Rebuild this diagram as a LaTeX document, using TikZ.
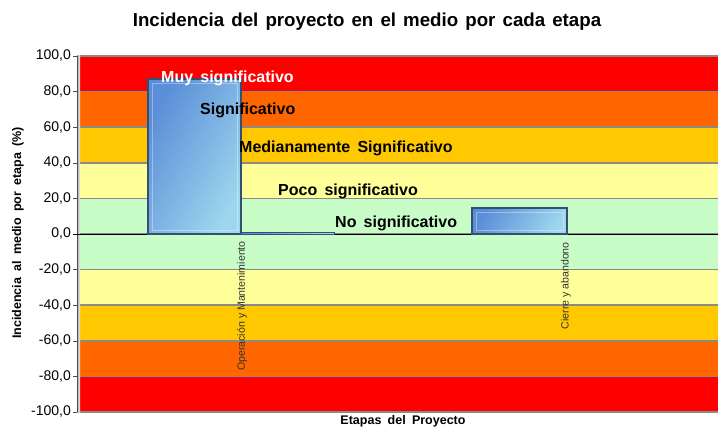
\documentclass[tikz,border=0pt]{standalone}
\usepackage{fontspec}
\setmainfont{Liberation Sans}
\definecolor{bandred}{HTML}{FF0000}
\definecolor{bandorange}{HTML}{FF6600}
\definecolor{bandgold}{HTML}{FFC800}
\definecolor{bandyellow}{HTML}{FFFF99}
\definecolor{bandgreen}{HTML}{C8FDC8}
\definecolor{bardark}{HTML}{5B8ED8}
\definecolor{barlight}{HTML}{9DD6EE}
\definecolor{baredge}{HTML}{34506E}
\definecolor{gridgray}{HTML}{8A8A8A}

\begin{document}
\begin{tikzpicture}[x=1pt, y=-1pt,
    wide/.style={execute at begin node={\spaceskip=#1\relax}},
    level/.style={font=\bfseries\fontsize{16}{18}\selectfont, wide=0.45em, anchor=west, inner sep=0pt},
    tick/.style={font=\fontsize{14}{16}\selectfont, anchor=east, inner sep=0pt},
    stage/.style={font=\fontsize{10.6}{12}\selectfont, text=black!80, rotate=90, anchor=east, inner sep=0pt},
    axtitle/.style={font=\bfseries\fontsize{12.5}{14}\selectfont, wide=0.5em, inner sep=0pt},
    bar/.style={top color=bardark, bottom color=barlight, shading angle=60, draw=baredge, line width=1.3pt}]

    \useasboundingbox (0,0) rectangle (718,428);

    \node[font=\bfseries\fontsize{18.7}{22}\selectfont, wide=0.38em] (title) at (367,22) {Incidencia del proyecto en el medio por cada etapa};

    \foreach \v/\c in {100/bandred,80/bandorange,60/bandgold,40/bandyellow,20/bandgreen,0/bandgreen,-20/bandyellow,-40/bandgold,-60/bandorange,-80/bandred} {
        \pgfmathsetmacro\ya{234-1.78*\v}
        \pgfmathsetmacro\yb{234-1.78*(\v-20)}
        \fill[\c] (79,\ya) rectangle (718,\yb);
        \draw[gridgray, line width=1.5pt] (79,\ya) -- (718,\ya);
    };
    \draw[gridgray, line width=1.5pt] (79,412) -- (718,412);
    \shade[left color=black!35, right color=black!5] (77,56) rectangle (80,412);

    \foreach \v [count=\n] in {100,80,...,-100} {
        \pgfmathsetmacro\ya{234-1.78*\v}
        \draw[black!70] (73,\ya) -- (77,\ya);
        \node[tick] (tick\n) at (71,\ya) {\v,0};
    };
    \draw[black!70] (77,56) -- (77,412);
    \draw[black] (73,234) -- (718,234);

    \draw[bar] (148,79) rectangle (241,234);
    \draw[bar, line width=0.6pt] (241,232) rectangle (334,234);
    \draw[bar] (472,208) rectangle (567,234);
    \draw[white, opacity=0.35] (152,83) rectangle (237,230);
    \draw[white, opacity=0.35] (476,212) rectangle (563,230);

    \node[level, text=white] (muy) at (161,78) {Muy significativo};
    \node[level] (sig) at (200,110) {Significativo};
    \node[level] (med) at (239,148) {Medianamente Significativo};
    \node[level] (poco) at (278,191) {Poco significativo};
    \node[level] (nosig) at (335,223) {No significativo};

    \node[stage] (opm) at (242,241) {Operación y Mantenimiento};
    \node[stage] (cya) at (566,242) {Cierre y abandono};

    \node[axtitle, rotate=90] (ylab) at (18,233) {Incidencia al medio por etapa (\%)};
    \node[axtitle] (xlab) at (403,421) {Etapas del Proyecto};

\end{tikzpicture}
\end{document}
